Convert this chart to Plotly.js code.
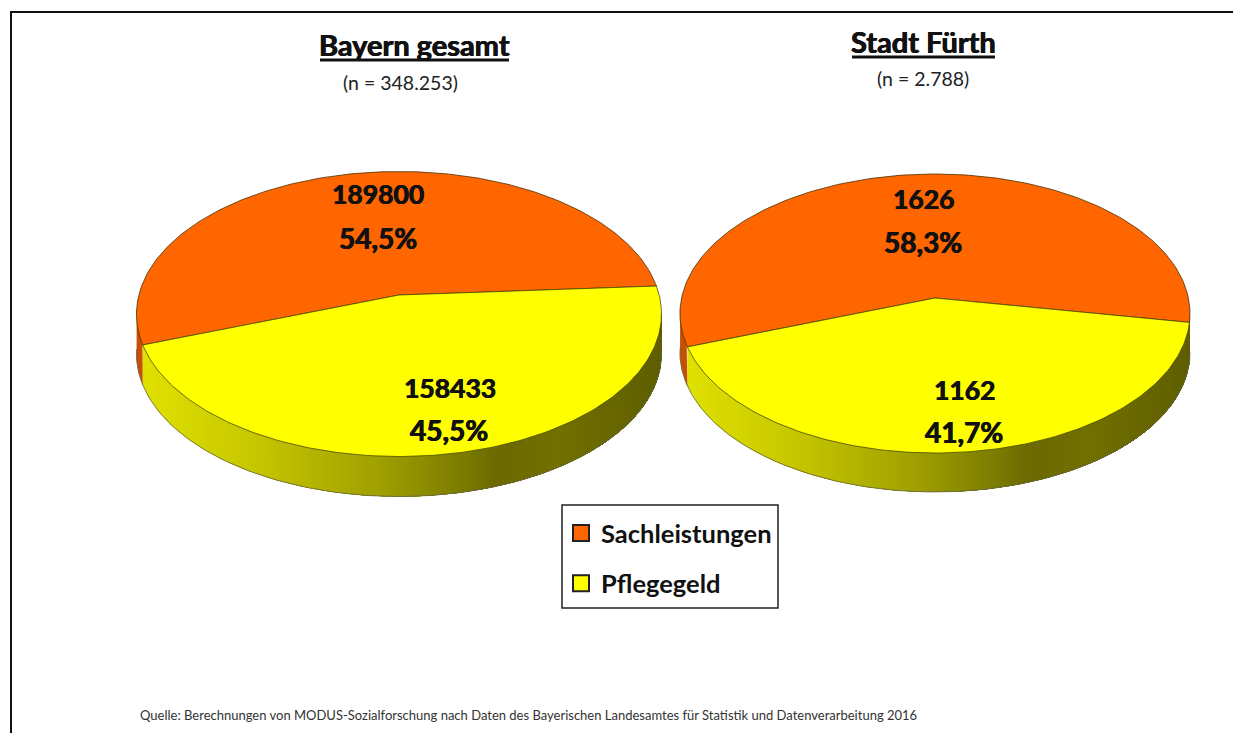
<!DOCTYPE html>
<html><head><meta charset="utf-8">
<script src="https://cdn.plot.ly/plotly-3.0.1.min.js"></script>
<style>html,body{margin:0;padding:0;background:#fff}#c{width:1233px;height:733px}</style>
</head><body><div id="c"></div>
<script>
// ---- data ----
const categories = ["Sachleistungen", "Pflegegeld"];
const regions = ["Bayern gesamt", "Stadt Fürth"];
const sampleLabels = ["(n = 348.253)", "(n = 2.788)"];
const bayernValues = [189800, 158433];
const fuerthValues = [1626, 1162];
const bayernShares = ["54,5%", "45,5%"];
const fuerthShares = ["58,3%", "41,7%"];
const sourceNote = "Quelle: Berechnungen von MODUS-Sozialforschung nach Daten des Bayerischen Landesamtes für Statistik und Datenverarbeitung 2016";

// ---- styles ----
const ORANGE = "#ff6600", YELLOW = "#ffff00", FONT = "Lato, 'Open Sans', sans-serif";
const HEAVY = "0.4px 0 0 #111, -0.4px 0 0 #111";
const rimStops = [[0,[226,226,0]],[0.215,[200,200,0]],[0.46,[160,160,0]],[0.6,[128,128,0]],[0.69,[107,105,0]],[0.8,[114,112,0]],[1,[94,94,0]]];

function rimColor(f) {
  for (let i = 1; i < rimStops.length; i++) {
    if (f <= rimStops[i][0]) {
      const a = rimStops[i-1], b = rimStops[i], k = (f-a[0])/(b[0]-a[0]);
      const c = a[1].map((v,j)=>Math.round(v+(b[1][j]-v)*k));
      return `rgb(${c[0]},${c[1]},${c[2]})`;
    }
  }
  return "rgb(94,94,0)";
}

const pies = [
  {values: bayernValues, shares: bayernShares, cx: 399, cy: 314, rx: 262.5, ry: 142.5, vy: 295, depth: 40, start: 3.7,
   labels: [[378,194,378,238],[450,388,449,430]]},
  {values: fuerthValues, shares: fuerthShares, cx: 935, cy: 313.5, rx: 255, ry: 139.5, vy: 298, depth: 39, start: -10,
   labels: [[923,199,923,242],[964,390,964,432]]}
];

const traces = [];
const annotations = [];

function addPie(p) {
  const total = p.values[0] + p.values[1];
  const v0 = (p.cy - p.vy) / p.ry;
  // true pie angle (deg) -> point of the perspective-foreshortened ellipse
  const pt = deg => {
    const a = deg*Math.PI/180, u = Math.cos(a), v = Math.sin(a), d = 1 + v0*v;
    return [p.cx + p.rx*u*Math.sqrt(1-v0*v0)/d, p.cy - p.ry*(v+v0)/d];
  };
  const end = p.start + p.values[0]/total*360;
  const arc = (a,b) => { const o=[]; const n=Math.ceil(Math.abs(b-a)); for(let i=0;i<=n;i++) o.push(pt(a+(b-a)*i/n)); return o; };
  const q = pt(end);
  const tLeft = 180 + Math.asin((q[1]-p.cy)/p.ry)*180/Math.PI;
  const rimPt = (t,dz) => [p.cx + p.rx*Math.cos(t*Math.PI/180), p.cy - p.ry*Math.sin(t*Math.PI/180) + dz];
  const addPoly = (pts,color,line,width) => traces.push({type:"scatter",mode:"lines",x:pts.map(a=>a[0]),y:pts.map(a=>a[1]),
      fill:"toself",fillcolor:color,line:{color:line,width:width},hoverinfo:"skip",showlegend:false});
  // rim, orange sliver on the left
  const sliver = [];
  for(let t=178;t<=tLeft;t+=1) sliver.push(rimPt(t,0));
  for(let t=tLeft;t>=178;t-=1) sliver.push(rimPt(t,p.depth));
  addPoly(sliver,"#c84e00","#c84e00",0.5);
  // rim, yellow shading: each band runs to the right end, the next one paints over it
  const xStart = rimPt(tLeft,0)[0], xEnd = p.cx + p.rx, n = 130;
  const tAt = x => 360 - Math.acos(Math.min(1,Math.max(-1,(x-p.cx)/p.rx)))*180/Math.PI;
  for(let i=0;i<n;i++){
    const xa = xStart+(xEnd-xStart)*i/n;
    const col = rimColor((xa+(xEnd-xStart)/n/2-(p.cx-p.rx))/(2*p.rx));
    const ta = tAt(xa), pts=[]; const m=Math.max(2,Math.ceil(360-ta));
    for(let j=0;j<=m;j++) pts.push(rimPt(ta+(360-ta)*j/m,0));
    for(let j=m;j>=0;j--) pts.push(rimPt(ta+(360-ta)*j/m,p.depth));
    addPoly(pts,col,col,0);
  }
  // rim outline
  const lower=[]; for(let t=178;t<=360;t+=1) lower.push(rimPt(t,p.depth));
  traces.push({type:"scatter",mode:"lines",x:lower.map(a=>a[0]),y:lower.map(a=>a[1]),line:{color:"#66664a",width:0.8},hoverinfo:"skip",showlegend:false});
  // slices
  const v = [p.cx, p.vy];
  addPoly([v,...arc(p.start,end),v],ORANGE,"#4a3000",0.8);
  addPoly([v,...arc(end,p.start+360),v],YELLOW,"#4a4a00",0.8);
  // labels
  p.values.forEach((val,i)=>{
    const l = p.labels[i];
    annotations.push({x:l[0],y:l[1],xref:"x",yref:"y",text:"<b>"+val+"</b>",showarrow:false,font:{family:FONT,size:26.5,color:"#111",shadow:HEAVY}});
    annotations.push({x:l[2],y:l[3],xref:"x",yref:"y",text:"<b>"+p.shares[i]+"</b>",showarrow:false,font:{family:FONT,size:28,color:"#111",shadow:HEAVY}});
  });
}
pies.forEach(addPie);

// legend entries
categories.forEach((name,i)=>traces.push({type:"scatter",mode:"markers",x:[null],y:[null],name:name,legendgroup:name,
  marker:{symbol:"square",size:17,color:i===0?ORANGE:YELLOW,line:{color:"#222",width:2}},hoverinfo:"skip"}));

// titles
[[414.5,44],[923.5,41]].forEach((a,i)=>{
  annotations.push({x:a[0],y:a[1],xref:"x",yref:"y",text:"<b>"+regions[i]+"</b>",showarrow:false,font:{family:FONT,size:29,color:"#111",shadow:HEAVY}});
});
[[400.5,82],[923,78]].forEach((a,i)=>{
  annotations.push({x:a[0],y:a[1],xref:"x",yref:"y",text:sampleLabels[i],showarrow:false,font:{family:FONT,size:19.5,color:"#222"}});
});
annotations.push({x:528.5,y:715,xref:"x",yref:"y",text:sourceNote,showarrow:false,font:{family:FONT,size:13,color:"#333"}});

const shapes = [
  {type:"line",x0:320,x1:509,y0:60,y1:60,line:{color:"#111",width:3}},
  {type:"line",x0:852,x1:995,y0:57,y1:57,line:{color:"#111",width:3}},
  {type:"line",x0:10,x1:1233,y0:12,y1:12,line:{color:"#111",width:2}},
  {type:"line",x0:11,x1:11,y0:12,y1:733,line:{color:"#111",width:2}},
  {type:"rect",x0:562,x1:778,y0:505,y1:608,line:{color:"#222",width:1.5},fillcolor:"rgba(0,0,0,0)"}
];

const layout = {
  width:1233,height:733,margin:{l:0,r:0,t:0,b:0},
  paper_bgcolor:"#fff",plot_bgcolor:"#fff",
  xaxis:{range:[0,1233],visible:false,fixedrange:true},
  yaxis:{range:[733,0],visible:false,fixedrange:true},
  showlegend:true,
  legend:{x:561/1233,y:1-510/733,xanchor:"left",yanchor:"top",bgcolor:"rgba(0,0,0,0)",borderwidth:0,
    font:{family:FONT,size:25.5,color:"#111",weight:700},tracegroupgap:14,itemclick:false,itemdoubleclick:false},
  annotations,shapes
};
Plotly.newPlot("c",traces,layout,{displayModeBar:false,staticPlot:true});
</script></body></html>
